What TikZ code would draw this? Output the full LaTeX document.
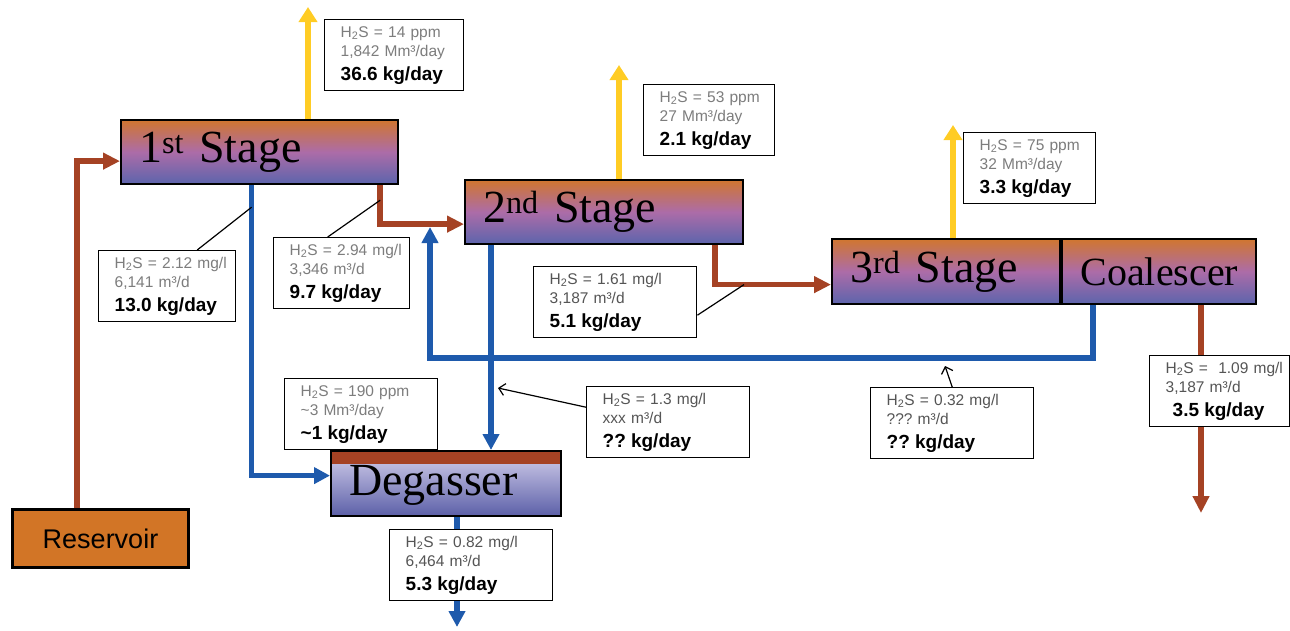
\documentclass[tikz,border=0pt]{standalone}
\usepackage{fontspec}
\setmainfont{Liberation Serif}
\setsansfont{Liberation Sans}
\usetikzlibrary{arrows.meta,positioning,calc}
\definecolor{stgorange}{RGB}{208,118,48}
\definecolor{stgpink}{RGB}{172,108,168}
\definecolor{stgblue}{RGB}{92,100,172}
\definecolor{degtop}{RGB}{212,208,236}
\definecolor{degbot}{RGB}{92,96,168}
\definecolor{oilred}{RGB}{165,66,36}
\definecolor{waterblue}{RGB}{30,90,172}
\definecolor{gasyellow}{RGB}{255,204,36}
\definecolor{resorange}{RGB}{210,117,38}
\definecolor{txtlight}{RGB}{125,125,125}
\definecolor{txtdark}{RGB}{85,85,85}
\newcommand{\hts}{H\textsubscript{2}S}
\newcommand{\kg}[1]{{\bfseries\fontsize{19}{20}\selectfont #1}}
\newcommand{\infopad}{\leftskip=16pt\relax}
\frenchspacing
\tikzset{
    vessel/.style={
        draw=black,line width=2.2pt,anchor=north west,
        align=left,inner xsep=18pt,inner ysep=0pt,
        font=\fontsize{46}{46}\selectfont
    },
    stage/.style={
        vessel,top color=stgorange,bottom color=stgblue,middle color=stgpink
    },
    source/.style={
        draw=black,line width=3pt,fill=resorange,anchor=north west,
        font=\sffamily\fontsize{27}{27}\selectfont
    },
    info/.style={
        draw=black,line width=1.4pt,fill=white,anchor=north west,
        align=left,inner xsep=0pt,inner ysep=0pt,minimum height=71pt,
        execute at begin node=\infopad,
        font=\sffamily\fontsize{15.5}{19.5}\selectfont
    },
    oilflow/.style={
        -{Triangle[length=17pt,width=16pt]},line width=5.5pt,draw=oilred
    },
    waterflow/.style={
        -{Triangle[length=16pt,width=16pt]},line width=5.5pt,draw=waterblue
    },
    gasflow/.style={
        -{Triangle[length=15pt,width=18pt]},line width=6pt,draw=gasyellow
    },
    callout/.style={line width=1.2pt,draw=black},
    pointer/.style={-{Straight Barb[length=6pt,width=12pt]},line width=1.2pt,draw=black}
}

\begin{document}
\begin{tikzpicture}[x=1pt,y=-1pt]
\useasboundingbox (0,0) rectangle (1290,630);

% vessels
\node[source,minimum width=176pt,minimum height=58pt] (res) at (11,508) {Reservoir};
\node[stage,text width=241pt,minimum height=64pt] (stg1) at (120,119) {1\textsuperscript{st} Stage};
\node[stage,text width=242pt,minimum height=64pt] (stg2) at (464,179) {2\textsuperscript{nd} Stage};
\node[stage,text width=192pt,minimum height=65pt] (stg3) at (831,238) {3\textsuperscript{rd} Stage};
\node[stage,right=0pt of stg3,align=center,inner xsep=0pt,text width=194pt,
      minimum height=65pt,font=\fontsize{40}{40}\selectfont] (coal) {Coalescer};
\node[vessel,top color=degtop,bottom color=degbot,text width=194pt,minimum height=65pt,
      text depth=6pt,
      path picture={\fill[oilred] (path picture bounding box.north west)
      rectangle ([yshift=-13pt]path picture bounding box.north east);}]
      (degas) at (330,450) {Degasser};

% free ends
\coordinate (gas1) at (308,7);
\coordinate (gas2) at (619,65);
\coordinate (gas3) at (953,125);
\coordinate (ret) at (430,227);
\coordinate (oilout) at (1201,513);
\coordinate (wout) at (457,627);

% gas
\draw[gasflow] (stg1.north -| gas1) -- (gas1);
\draw[gasflow] (stg2.north -| gas2) -- (gas2);
\draw[gasflow] (stg3.north -| gas3) -- (gas3);

% oil
\draw[oilflow] ([xshift=66pt]res.north west) |- ([yshift=-9pt]stg1.west);
\draw[oilflow] ([xshift=-19pt]stg1.south east) |- ([yshift=-12pt]stg2.west);
\draw[oilflow] ([xshift=-29pt]stg2.south east) |- ([yshift=-13pt]stg3.west);
\draw[oilflow] (coal.south -| oilout) -- (oilout);

% water
\draw[waterflow] ([xshift=-8pt]stg1.south) |- ([yshift=8pt]degas.west);
\draw[waterflow] ([xshift=27pt]stg2.south west) coordinate (w2) -- (w2 |- degas.north);
\draw[waterflow] ([xshift=32pt]coal.south west) -- ++(0,53) -| (ret);
\draw[waterflow] (degas.south -| wout) -- (wout);

% data boxes
\node[info,text width=139pt] (b14) at (324,19)
{\textcolor{txtlight}{\hts{} = 14 ppm}\\
\textcolor{txtlight}{1,842 Mm³/day}\\[4pt]
\kg{36.6 kg/day}};
\node[info,text width=131pt] (b53) at (643,84)
{\textcolor{txtlight}{\hts{} = 53 ppm}\\
\textcolor{txtlight}{27 Mm³/day}\\[4pt]
\kg{2.1 kg/day}};
\node[info,text width=132pt] (b75) at (963,132)
{\textcolor{txtlight}{\hts{} = 75 ppm}\\
\textcolor{txtlight}{32 Mm³/day}\\[4pt]
\kg{3.3 kg/day}};
\node[info,text width=137pt] (b212) at (98,250)
{\textcolor{txtlight}{\hts{} = 2.12 mg/l}\\
\textcolor{txtlight}{6,141 m³/d}\\[4pt]
\kg{13.0 kg/day}};
\node[info,text width=136pt] (b294) at (273,237)
{\textcolor{txtlight}{\hts{} = 2.94 mg/l}\\
\textcolor{txtlight}{3,346 m³/d}\\[4pt]
\kg{9.7 kg/day}};
\node[info,text width=163pt] (b161) at (533,266)
{\textcolor{txtdark}{\hts{} = 1.61 mg/l}\\
\textcolor{txtdark}{3,187 m³/d}\\[4pt]
\kg{5.1 kg/day}};
\node[info,text width=153pt] (b190) at (284,378)
{\textcolor{txtlight}{\hts{} = 190 ppm}\\
\textcolor{txtlight}{\textasciitilde3 Mm³/day}\\[4pt]
\kg{\textasciitilde1 kg/day}};
\node[info,text width=163pt] (b13) at (586,386)
{\textcolor{txtdark}{\hts{} = 1.3 mg/l}\\
\textcolor{txtdark}{xxx m³/d}\\[4pt]
\kg{?? kg/day}};
\node[info,text width=163pt] (b032) at (870,387)
{\textcolor{txtdark}{\hts{} = 0.32 mg/l}\\
\textcolor{txtdark}{??? m³/d}\\[4pt]
\kg{?? kg/day}};
\node[info,text width=163pt] (b082) at (389,529)
{\textcolor{txtdark}{\hts{} = 0.82 mg/l}\\
\textcolor{txtdark}{6,464 m³/d}\\[4pt]
\kg{5.3 kg/day}};
\node[info,text width=140pt] (b109) at (1149,355)
{\textcolor{txtdark}{\hts{} =\ \ 1.09 mg/l}\\
\textcolor{txtdark}{3,187 m³/d}\\[4pt]
\hspace*{7pt}\kg{3.5 kg/day}};

% callouts
\draw[callout] ([xshift=30pt]b212.north) -- ([xshift=-8pt,yshift=-22pt]stg1.south);
\draw[callout] ([xshift=-14pt]b294.north) -- ([xshift=-19pt,yshift=-15pt]stg1.south east);
\draw[callout] ([yshift=-13pt]b161.east) -- ([xshift=-87pt,yshift=-13pt]stg3.west);
\coordinate (p13) at (498,388);
\coordinate (p032) at (945,366);
\draw[pointer] ([yshift=15pt]b13.west) -- (p13);
\draw[pointer] (b032.north) -- (p032);

\end{tikzpicture}
\end{document}
